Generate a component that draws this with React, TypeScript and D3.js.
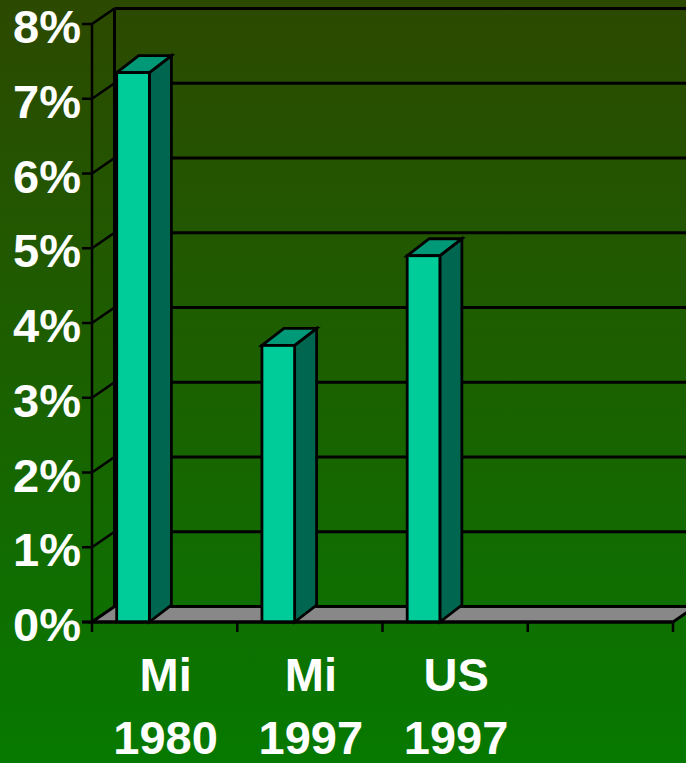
import React from "react";
import * as d3 from "d3";

const categories = ["Mi 1980", "Mi 1997", "US 1997", ""];
const labelLine1 = ["Mi", "Mi", "US", ""];
const labelLine2 = ["1980", "1997", "1997", ""];
const values: (number | null)[] = [0.0735, 0.037, 0.049, null];
const yTicks = [0, 0.01, 0.02, 0.03, 0.04, 0.05, 0.06, 0.07, 0.08];

const W = 686;
const H = 763;
const X0 = 92;
const X1 = 673;
const Y0 = 622;
const Y1 = 24;
const DX = 22.5;
const DY = -15.5;
const BDX = 22;
const BDY = -17;

export default function App() {
  const x = d3.scaleBand<string>().domain(categories).range([X0, X1]).paddingInner(0).paddingOuter(0);
  const y = d3.scaleLinear().domain([0, 0.08]).range([Y0, Y1]);
  const bw = x.bandwidth();
  const fmt = d3.format(".0%");
  const font = "'Liberation Sans', Arial, sans-serif";

  const pts = (arr: [number, number][]) => arr.map((p) => p.join(",")).join(" ");

  return (
    <svg width={W} height={H} style={{ position: "absolute", left: 0, top: 0 }}>
      <defs>
        <linearGradient id="bg" x1="0" y1="0" x2="0" y2="1">
          <stop offset="0" stopColor="#2c4900" />
          <stop offset="0.45" stopColor="#1d5e00" />
          <stop offset="1" stopColor="#067900" />
        </linearGradient>
      </defs>
      <rect x={0} y={0} width={W} height={H} fill="url(#bg)" />

      {/* back wall gridlines */}
      {yTicks.map((t) => (
        <line key={"g" + t} x1={X0 + DX} x2={W + 10} y1={y(t) + DY} y2={y(t) + DY} stroke="#000" strokeWidth={3} />
      ))}
      {/* left wall diagonals */}
      {yTicks.map((t) => (
        <line key={"d" + t} x1={X0} y1={y(t)} x2={X0 + DX} y2={y(t) + DY} stroke="#000" strokeWidth={2.5} />
      ))}
      {/* back wall left edge */}
      <line x1={X0 + DX} x2={X0 + DX} y1={y(0.08) + DY} y2={y(0) + DY} stroke="#000" strokeWidth={3} />

      {/* floor */}
      <polygon
        points={pts([
          [X0, Y0],
          [X1, Y0],
          [X1 + DX, Y0 + DY],
          [X0 + DX, Y0 + DY],
        ])}
        fill="#888888"
        stroke="#000"
        strokeWidth={3}
        strokeLinejoin="miter"
      />

      {/* bars */}
      {categories.map((c, i) => {
        const v = values[i];
        if (v == null) return null;
        const bx = (x(c) as number) + bw * 0.17;
        const bwid = bw * 0.225;
        const top = y(v);
        const bottom = y(0);
        return (
          <g key={"b" + i} stroke="#000" strokeWidth={2.8} strokeLinejoin="miter">
            <polygon
              points={pts([
                [bx + bwid, bottom],
                [bx + bwid + BDX, bottom + BDY],
                [bx + bwid + BDX, top + BDY],
                [bx + bwid, top],
              ])}
              fill="#006650"
            />
            <polygon
              points={pts([
                [bx, top],
                [bx + bwid, top],
                [bx + bwid + BDX, top + BDY],
                [bx + BDX, top + BDY],
              ])}
              fill="#009977"
            />
            <rect x={bx} y={top} width={bwid} height={bottom - top} fill="#00cc99" />
          </g>
        );
      })}

      {/* front axes */}
      <line x1={X0} x2={X0} y1={y(0.08)} y2={Y0} stroke="#000" strokeWidth={2.5} />
      <line x1={X0 - 10} x2={X1} y1={Y0} y2={Y0} stroke="#000" strokeWidth={3} />
      {yTicks.map((t) => (
        <line key={"yt" + t} x1={X0 - 10} x2={X0} y1={y(t)} y2={y(t)} stroke="#000" strokeWidth={2.5} />
      ))}
      {[...categories.map((c) => x(c) as number), X1].map((tx, i) => (
        <line key={"xt" + i} x1={tx} x2={tx} y1={Y0} y2={Y0 + 10} stroke="#000" strokeWidth={2.5} />
      ))}

      {/* y labels */}
      {yTicks.map((t) => (
        <text
          key={"yl" + t}
          x={81}
          y={y(t) + 19}
          textAnchor="end"
          fontFamily={font}
          fontWeight="bold"
          fontSize={47}
          fill="#fff"
        >
          {fmt(t)}
        </text>
      ))}

      {/* x labels */}
      {categories.map((c, i) => {
        const cx = (x(c) as number) + bw / 2;
        return (
          <g key={"xl" + i} fontFamily={font} fontWeight="bold" fontSize={47} fill="#fff" textAnchor="middle">
            <text x={cx + 1} y={691}>{labelLine1[i]}</text>
            <text x={cx + 1} y={754}>{labelLine2[i]}</text>
          </g>
        );
      })}
    </svg>
  );
}
